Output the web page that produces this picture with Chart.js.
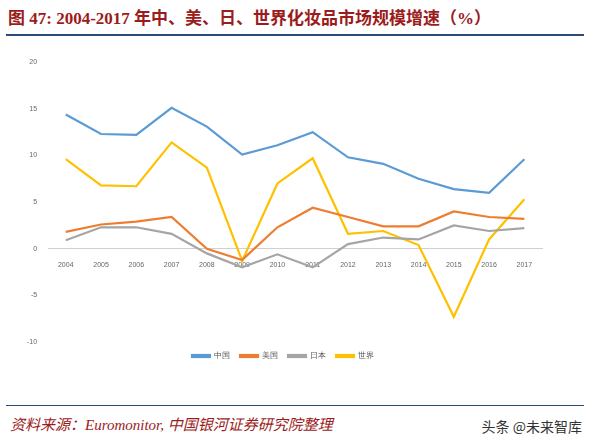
<!DOCTYPE html>
<html><head><meta charset="utf-8">
<script src="https://cdn.jsdelivr.net/npm/chart.js@4"></script>
<style>
body{margin:0;width:590px;height:444px;background:#fff;position:relative;font-family:"Noto Sans CJK SC",serif;overflow:hidden}
#title{position:absolute;left:8px;top:4px;font-size:17px;font-weight:bold;color:#9b1c1c;font-family:"Liberation Serif","Noto Sans CJK SC",serif}
#tline{position:absolute;left:6px;right:6px;top:34px;border-top:2px solid #2b4b7a}
#bline{position:absolute;left:6px;right:6px;top:405px;border-top:1.5px solid #2b4b7a}
#src{position:absolute;left:10px;top:413px;font-size:15px;font-style:italic;color:#9b1c1c;font-family:"Liberation Serif","Noto Sans CJK SC",serif}
#wm{position:absolute;right:8px;top:416px;font-size:14px;color:#333}
#box{position:absolute;left:24px;top:55px;width:520px;height:315px}
</style></head><body>
<div id="title">图 47: 2004-2017 年中、美、日、世界化妆品市场规模增速（%）</div>
<div id="tline"></div>
<div id="box"><canvas id="c"></canvas></div>
<div id="bline"></div>
<div id="src">资料来源：Euromonitor, 中国银河证券研究院整理</div>
<div id="wm">头条 @未来智库</div>
<script>
const years = ['2004','2005','2006','2007','2008','2009','2010','2011','2012','2013','2014','2015','2016','2017']
const china = [14.4,12.3,12.2,15.1,13.1,10.1,11.1,12.5,9.8,9.1,7.5,6.4,6.0,9.6]
const usa = [1.8,2.6,2.9,3.4,0,-1.2,2.3,4.4,3.4,2.4,2.4,4.0,3.4,3.2]
const japan = [0.9,2.3,2.3,1.6,-0.5,-2.0,-0.6,-2.0,0.5,1.2,1.0,2.5,1.9,2.2]
const world = [9.6,6.8,6.7,11.4,8.7,-1.3,7.0,9.7,1.6,1.9,0.4,-7.3,1.0,5.3]

const ds = (label, data, color) => ({ label, data, borderColor: color, backgroundColor: color, borderWidth: 2.2, pointRadius: 0, tension: 0 })

new Chart(document.getElementById('c'), {
  type: 'line',
  data: {
    labels: years,
    datasets: [ds('中国', china, '#5b9bd5'), ds('美国', usa, '#ed7d31'), ds('日本', japan, '#a5a5a5'), ds('世界', world, '#ffc000')]
  },
  options: {
    responsive: true, maintainAspectRatio: false, animation: false,
    layout: { padding: { top: 4, right: 2 } },
    plugins: {
      tooltip: { enabled: false },
      legend: { position: 'bottom', labels: { boxWidth: 18, boxHeight: 2, font: { size: 8 }, color: '#555' } }
    },
    scales: {
      x: {
        position: { y: 0 },
        offset: true,
        grid: { display: false },
        border: { color: '#d0d0d0' },
        ticks: { font: { size: 7 }, color: '#666', maxRotation: 0, padding: 4 }
      },
      y: {
        min: -10, max: 20,
        ticks: { stepSize: 5, font: { size: 7 }, color: '#666' },
        grid: { display: false },
        border: { display: false }
      }
    }
  }
})
</script>
</body></html>
